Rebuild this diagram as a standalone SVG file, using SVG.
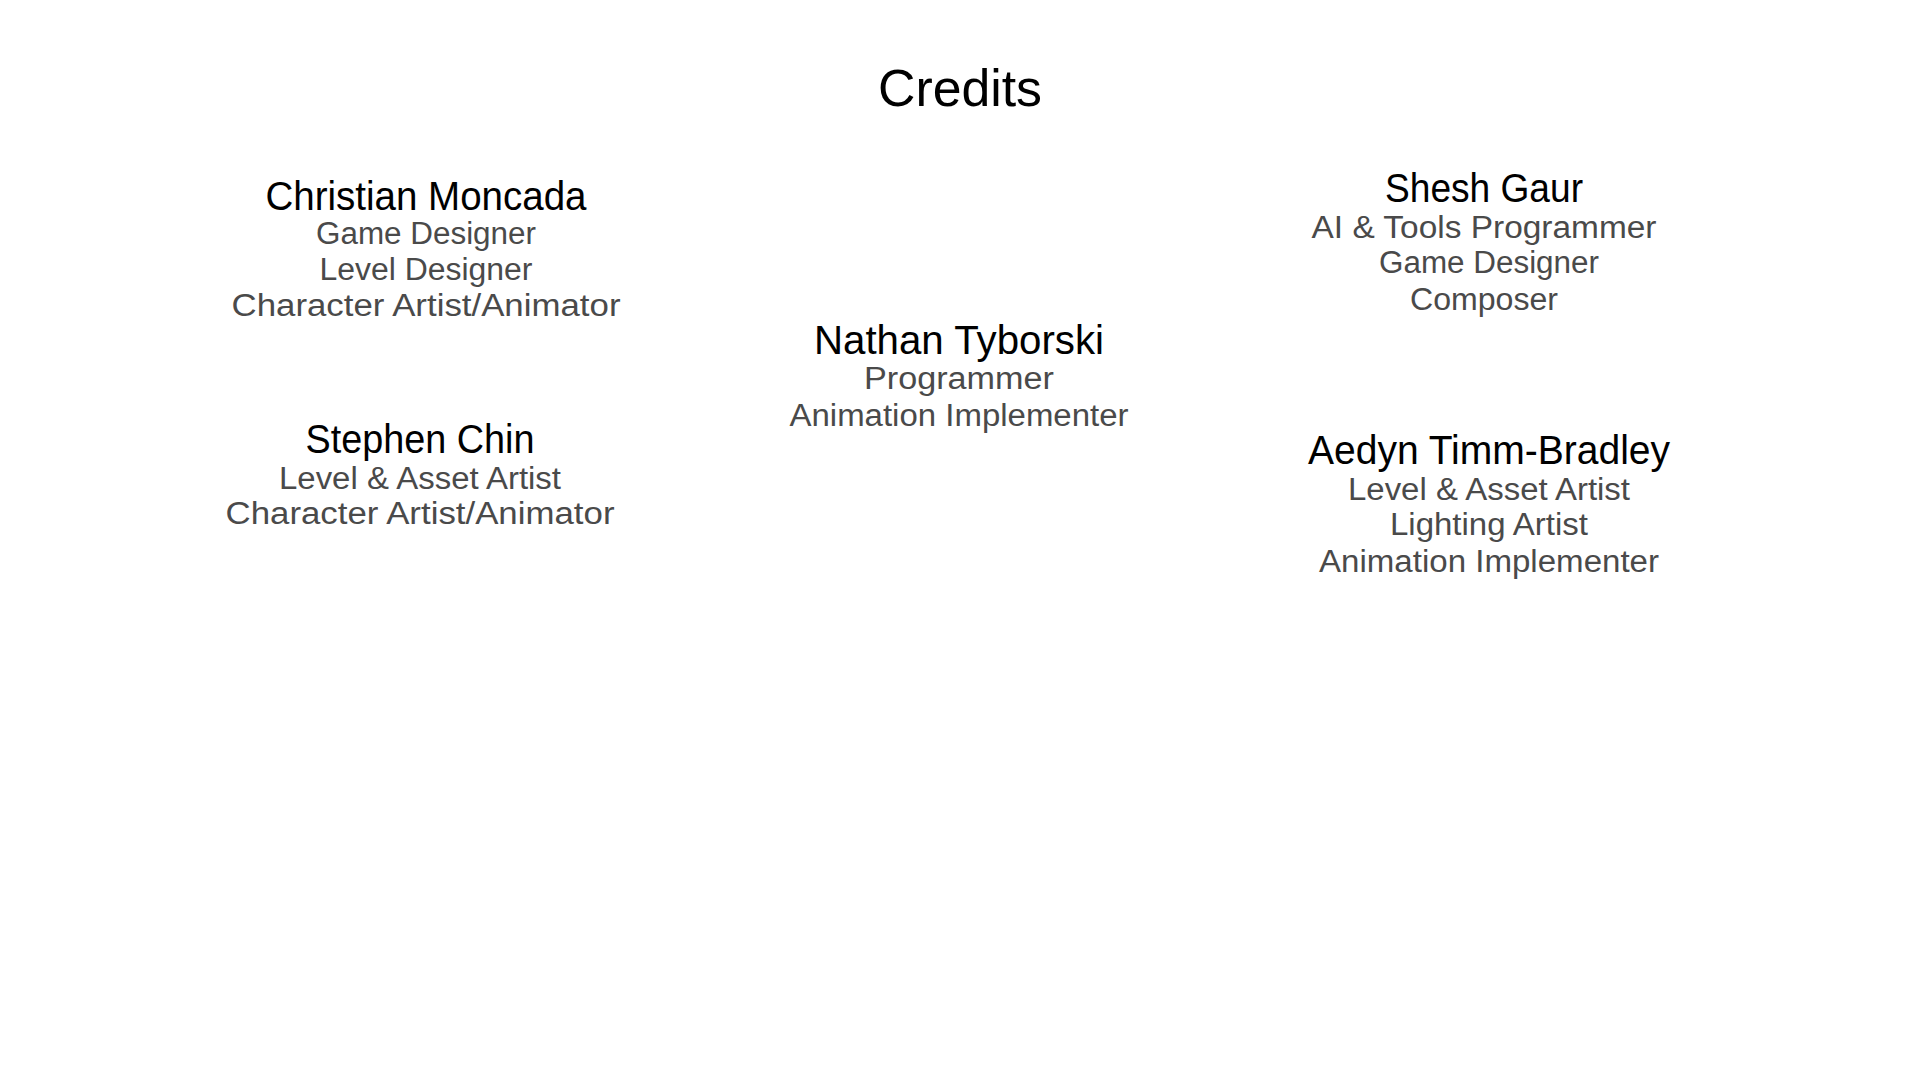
<svg xmlns="http://www.w3.org/2000/svg" width="1920" height="1080" viewBox="0 0 1920 1080">
<style>
text{font-family:"Liberation Sans","DejaVu Sans",sans-serif;text-anchor:middle}
.t{font-size:52px;fill:#000}
.n{font-size:40px;fill:#000}
.r{font-size:31px;fill:#4a4a4a}
</style>
<rect width="1920" height="1080" fill="#fff"/>
<g id="title"><text class="t" x="960" y="106" textLength="164" lengthAdjust="spacingAndGlyphs">Credits</text></g>
<g id="christian">
<text class="n" x="426" y="210" textLength="321" lengthAdjust="spacingAndGlyphs">Christian Moncada</text>
<text class="r" x="426" y="244" textLength="220" lengthAdjust="spacingAndGlyphs">Game Designer</text>
<text class="r" x="426" y="280" textLength="213" lengthAdjust="spacingAndGlyphs">Level Designer</text>
<text class="r" x="426" y="316" textLength="389" lengthAdjust="spacingAndGlyphs">Character Artist/Animator</text>
</g>
<g id="stephen">
<text class="n" x="420" y="453" textLength="229" lengthAdjust="spacingAndGlyphs">Stephen Chin</text>
<text class="r" x="420" y="489" textLength="282" lengthAdjust="spacingAndGlyphs">Level &amp; Asset Artist</text>
<text class="r" x="420" y="524" textLength="389" lengthAdjust="spacingAndGlyphs">Character Artist/Animator</text>
</g>
<g id="nathan">
<text class="n" x="959" y="354" textLength="290" lengthAdjust="spacingAndGlyphs">Nathan Tyborski</text>
<text class="r" x="959" y="389" textLength="190" lengthAdjust="spacingAndGlyphs">Programmer</text>
<text class="r" x="959" y="426" textLength="339" lengthAdjust="spacingAndGlyphs">Animation Implementer</text>
</g>
<g id="shesh">
<text class="n" x="1484" y="202" textLength="198" lengthAdjust="spacingAndGlyphs">Shesh Gaur</text>
<text class="r" x="1484" y="238" textLength="345" lengthAdjust="spacingAndGlyphs">AI &amp; Tools Programmer</text>
<text class="r" x="1489" y="273" textLength="220" lengthAdjust="spacingAndGlyphs">Game Designer</text>
<text class="r" x="1484" y="310" textLength="148" lengthAdjust="spacingAndGlyphs">Composer</text>
</g>
<g id="aedyn">
<text class="n" x="1489" y="464" textLength="362" lengthAdjust="spacingAndGlyphs">Aedyn Timm-Bradley</text>
<text class="r" x="1489" y="500" textLength="282" lengthAdjust="spacingAndGlyphs">Level &amp; Asset Artist</text>
<text class="r" x="1489" y="535" textLength="198" lengthAdjust="spacingAndGlyphs">Lighting Artist</text>
<text class="r" x="1489" y="572" textLength="340" lengthAdjust="spacingAndGlyphs">Animation Implementer</text>
</g>
<g id="connectors"/>
</svg>
